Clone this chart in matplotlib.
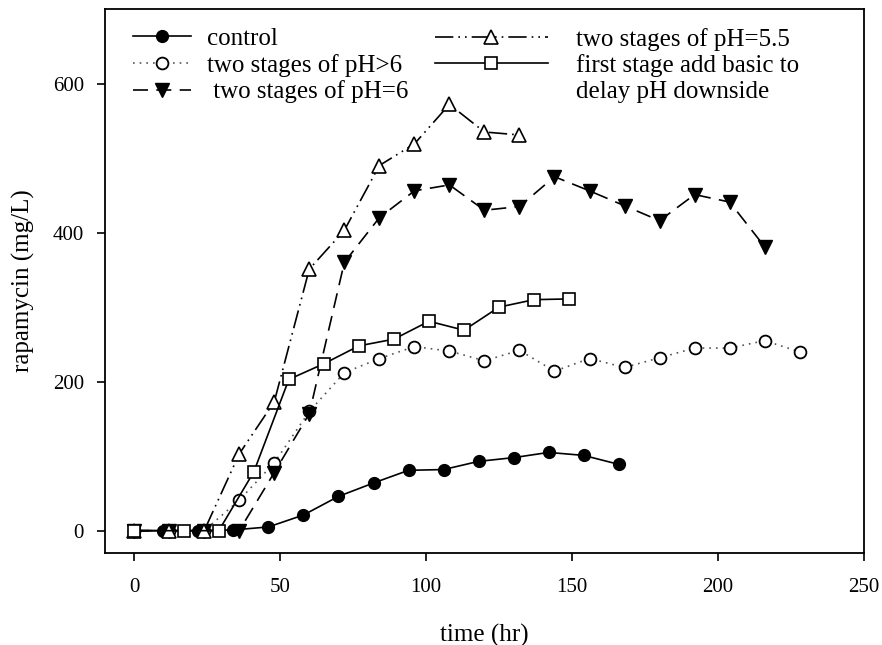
import matplotlib
matplotlib.use("Agg")
import matplotlib.pyplot as plt
from matplotlib.lines import Line2D

plt.rcParams['font.family'] = ['Liberation Serif', 'DejaVu Serif']

# rapamycin titre (mg/L) against fermentation time (hr)
t_control = [0, 10, 22, 34, 46, 58, 70, 82, 94, 106, 118, 130, 142, 154, 166]
y_control = [0, 0, 0, 1, 5, 21, 46, 64, 81, 82, 93, 98, 105, 101, 89]

t_ph_gt6 = [0, 12, 24, 36, 48, 60, 72, 84, 96, 108, 120, 132, 144, 156,
            168, 180, 192, 204, 216, 228]
y_ph_gt6 = [0, 0, 0, 41, 91, 160, 212, 231, 247, 241, 228, 242, 214, 231,
            219, 232, 245, 245, 255, 240]

t_ph6 = [0, 12, 24, 36, 48, 60, 72, 84, 96, 108, 120, 132, 144, 156,
         168, 180, 192, 204, 216]
y_ph6 = [0, 0, 0, 0, 78, 157, 360, 420, 456, 464, 430, 435, 475, 456,
         436, 416, 451, 441, 381]

t_ph55 = [0, 12, 24, 36, 48, 60, 72, 84, 96, 108, 120, 132]
y_ph55 = [0, 0, 0, 103, 173, 351, 403, 490, 519, 572, 535, 531]

t_basic = [0, 17, 29, 41, 53, 65, 77, 89, 101, 113, 125, 137, 149]
y_basic = [0, 0, 0, 79, 203, 224, 248, 257, 281, 269, 300, 310, 311]

fig = plt.figure(figsize=(8.82, 6.45), dpi=100)
ax = fig.add_axes([0.119, 0.1426, 0.8605, 0.8434])

lw = 1.2
l1, = ax.plot(t_control, y_control, color='black', lw=lw, marker='o',
              ms=8.5, mfc='black', mec='black')
l2, = ax.plot(t_ph_gt6, y_ph_gt6, color='#555555', lw=lw, ls=(0, (1, 3)),
              marker='o', ms=8.5, mfc='white', mec='black', mew=1.3)
l3, = ax.plot(t_ph6, y_ph6, color='black', lw=lw, ls=(0, (9, 5)),
              marker='v', ms=9.5, mfc='black', mec='black')
l4, = ax.plot(t_ph55, y_ph55, color='black', lw=lw,
              ls=(0, (11, 3, 1, 3, 1, 3)), marker='^', ms=9.5,
              mfc='white', mec='black', mew=1.2)
l5, = ax.plot(t_basic, y_basic, color='black', lw=lw, marker='s',
              ms=8, mfc='white', mec='black', mew=1.2)

ax.set_xlim(-10, 250)
ax.set_ylim(-30, 700)
ax.set_xticks([0, 50, 100, 150, 200, 250])
ax.set_yticks([0, 200, 400, 600])
ax.tick_params(direction='out', length=5.5, width=1.2, labelsize=15)
ax.tick_params(axis='x', pad=12.5)
ax.tick_params(axis='y', pad=9.5)
for side in ax.spines.values():
    side.set_linewidth(1.3)

ax.set_xlabel('time (hr)', fontsize=18, labelpad=19)
ax.set_ylabel('rapamycin (mg/L)', fontsize=18, labelpad=13)

leg1 = ax.legend([l1, l2, l3],
                 ['control', 'two stages of pH>6', ' two stages of pH=6'],
                 loc='upper left', bbox_to_anchor=(0.037, 0.966),
                 frameon=False, fontsize=18, numpoints=1,
                 handlelength=2.3, handletextpad=0.64, labelspacing=0.15,
                 borderpad=0, borderaxespad=0)
ax.add_artist(leg1)
blank = Line2D([], [], color='none')
ax.legend([l4, l5, blank],
          ['two stages of pH=5.5', 'first stage add basic to',
           'delay pH downside'],
          loc='upper left', bbox_to_anchor=(0.435, 0.966), frameon=False,
          fontsize=18, numpoints=1, handlelength=4.5,
          handletextpad=1.12, labelspacing=0.15,
          borderpad=0, borderaxespad=0)

fig.savefig('out.png', dpi=100)
